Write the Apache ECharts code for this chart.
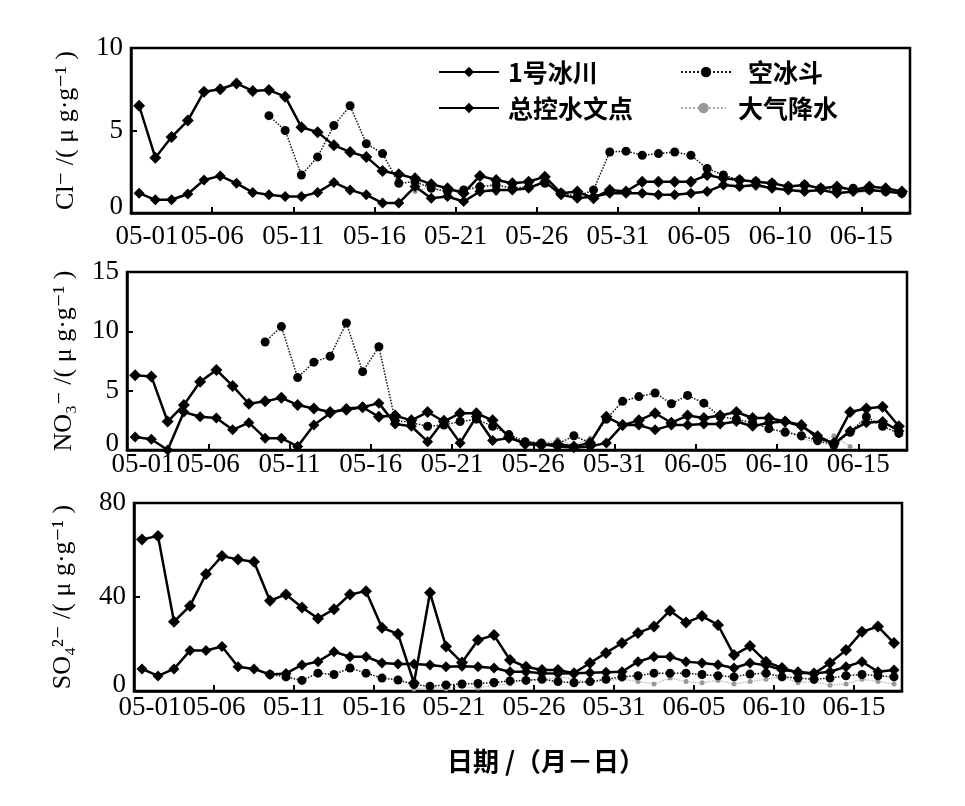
<!DOCTYPE html>
<html><head><meta charset="utf-8">
<script src="https://cdn.jsdelivr.net/npm/echarts@6/dist/echarts.min.js"></script>
<style>html,body{margin:0;padding:0;background:#fff}#c{width:965px;height:806px}</style>
</head><body><div id="c"></div>
<script>
// ---- data ----
const dates = ['05-01','05-02','05-03','05-04','05-05','05-06','05-07','05-08','05-09','05-10',
  '05-11','05-12','05-13','05-14','05-15','05-16','05-17','05-18','05-19','05-20',
  '05-21','05-22','05-23','05-24','05-25','05-26','05-27','05-28','05-29','05-30',
  '05-31','06-01','06-02','06-03','06-04','06-05','06-06','06-07','06-08','06-09',
  '06-10','06-11','06-12','06-13','06-14','06-15','06-16','06-17'];
const seriesNames = ['1号冰川', '总控水文点', '空冰斗', '大气降水'];

const clGlacier = [6.5,3.35,4.6,5.6,7.35,7.5,7.85,7.4,7.45,7.05,
  5.2,4.9,4.1,3.7,3.4,2.55,2.35,2.1,1.75,1.5,
  1.2,2.25,2.0,1.8,1.9,2.2,1.2,1.3,0.9,1.4,
  1.3,1.9,1.9,1.9,1.9,2.3,2.1,2.0,1.9,1.8,
  1.6,1.7,1.5,1.6,1.4,1.6,1.5,1.3];
const clOutlet = [1.2,0.8,0.8,1.15,2.0,2.25,1.8,1.25,1.1,1.0,
  1.0,1.25,1.85,1.4,1.1,0.6,0.6,1.6,0.9,1.0,
  0.7,1.3,1.4,1.4,1.5,1.9,1.1,0.9,1.0,1.2,
  1.2,1.2,1.1,1.1,1.2,1.3,1.7,1.6,1.7,1.5,
  1.4,1.3,1.4,1.2,1.3,1.4,1.3,1.2];
const clCirque = [null,null,null,null,null,null,null,null,5.9,5.0,
  2.3,3.4,5.3,6.5,4.2,3.6,1.8,1.9,1.5,1.3,
  1.4,1.6,1.7,1.5,1.6,1.8,1.2,1.0,1.4,3.7,
  3.75,3.5,3.6,3.7,3.5,2.7,2.3,2.0,1.9,1.8,
  1.6,1.7,1.5,1.4,1.5,1.4,1.3,1.2];
const clPrecip = [null,null,null,null,null,null,null,null,null,null,
  null,null,null,null,null,null,null,1.3,1.6,1.2,
  1.5,1.4,1.2,null,null,null,null,null,null,null,
  null,null,null,null,null,null,1.8,1.7,1.5,1.6,
  1.4,1.5,1.3,1.4,1.2,1.3,1.4,1.1];

const no3Glacier = [6.3,6.2,2.4,3.8,5.75,6.75,5.4,3.9,4.1,4.4,
  3.8,3.5,3.2,3.4,3.6,2.8,2.9,2.5,3.2,2.4,
  3.1,3.1,2.5,1.1,0.5,0.4,0.5,0.3,0.6,2.8,
  2.1,2.5,3.1,2.3,2.9,2.7,2.9,3.2,2.7,2.7,
  2.4,2.1,1.0,0.6,3.2,3.5,3.65,2.0];
const no3Outlet = [1.1,0.9,0.0,3.2,2.8,2.7,1.7,2.3,1.0,1.0,
  0.3,2.1,3.1,3.5,3.6,3.95,2.2,2.0,0.7,2.5,
  0.6,2.8,0.8,1.0,0.6,0.5,0.3,0.2,0.3,0.6,
  2.1,2.1,1.7,2.1,2.1,2.2,2.2,2.4,2.0,2.3,
  2.4,2.0,1.2,0.5,1.6,2.3,2.4,1.6];
const no3Cirque = [null,null,null,null,null,null,null,null,9.1,10.4,
  6.1,7.4,7.9,10.7,6.6,8.7,2.5,2.3,2.0,2.1,
  2.4,2.6,2.0,1.3,0.7,0.6,0.5,1.2,0.6,2.6,
  4.1,4.5,4.8,3.9,4.6,3.95,2.8,2.6,2.3,1.8,
  1.5,1.2,0.8,0.4,1.5,2.8,2.0,1.4];
const no3Precip = [null,null,null,null,null,null,null,null,null,null,
  null,null,null,null,null,null,null,null,null,null,
  null,null,null,null,0.8,0.5,0.9,0.4,1.0,null,
  null,null,null,null,null,null,null,null,null,null,
  1.8,1.0,0.6,1.2,0.3,null,null,null];

const so4Glacier = [64.5,66,29.5,36.2,49.8,57.4,56,55,38.4,41.1,
  35.5,30.9,34.8,41.1,42.5,26.9,24.3,3.4,41.8,18.9,
  12.1,21.7,23.8,13.2,10.3,8.9,8.9,7.6,11.9,16.2,
  20.4,24.7,27.4,34.2,29.1,31.9,28.1,15.3,19.1,12.5,
  9.8,7.8,7.4,11.9,17.4,25.2,27.4,20.4];
const so4Outlet = [9.4,6.4,9.4,17.2,17.2,18.9,10.3,9.4,7.0,7.5,
  11.1,12.5,16.7,14.6,14.6,11.9,11.5,11.5,11.1,10.3,
  10.5,10.3,9.8,8.2,8.2,7.6,7.4,7.6,7.8,8.0,
  8.2,12.5,14.6,14.6,12.5,11.9,11.2,9.8,11.9,11.0,
  8.9,8.2,7.4,8.2,10.3,12.5,8.2,8.9];
const so4Cirque = [null,null,null,null,null,null,null,null,7.0,6.0,
  4.5,7.6,7.0,9.8,7.6,5.5,4.7,2.8,2.0,2.6,
  3.0,3.2,3.6,4.3,4.5,5.0,4.0,3.5,4.0,5.0,
  6.0,6.5,7.6,7.6,7.6,7.0,6.5,6.0,7.2,7.6,
  6.0,5.5,5.0,5.5,6.5,7.0,6.5,6.0];
const so4Precip = [null,null,null,null,null,null,null,null,null,null,
  null,null,null,null,null,null,null,0.8,1.5,1.0,
  2.0,1.2,2.5,3.0,5.0,4.5,6.0,5.0,3.5,4.5,
  5.0,4.0,3.0,5.5,4.0,3.5,4.5,3.0,4.0,5.0,
  6.0,3.5,4.0,2.5,3.0,5.0,4.0,3.0];

const yTicks = [[0,10,5],[0,15,5],[0,80,40]]; // [min,max,interval]
const yNames = ['Cl⁻ /( μ g·g⁻¹ )', 'NO₃⁻ /( μ g·g⁻¹ )', 'SO₄²⁻ /( μ g·g⁻¹ )'];

// ---- layout ----
const grids = [
  {left:131, right:55, top:48, height:165},
  {left:127, right:58, top:272, height:178},
  {left:134, right:63, top:503, height:188}
];
const xMargins = [10, 1, 3];
const yNameGaps = [52, 50, 58];
const serif = '"Liberation Serif", "DejaVu Serif", serif';
const cjk = '"Noto Sans CJK SC", sans-serif';

const panels = [
  [clGlacier, clOutlet, clCirque, clPrecip],
  [no3Glacier, no3Outlet, no3Cirque, no3Precip],
  [so4Glacier, so4Outlet, so4Cirque, so4Precip]
];

const styles = [
  {symbol:'diamond', symbolSize:12, lineStyle:{color:'#000', width:2.5, type:'solid'}, itemStyle:{color:'#000'}, z:4},
  {symbol:'diamond', symbolSize:11, lineStyle:{color:'#000', width:2.5, type:'solid'}, itemStyle:{color:'#000'}, z:3},
  {symbol:'circle', symbolSize:9, lineStyle:{color:'#111', width:1.5, type:'dotted'}, itemStyle:{color:'#000'}, z:2},
  {symbol:'circle', symbolSize:5, lineStyle:{color:'#aaa', width:1.2, type:'dotted'}, itemStyle:{color:'#999'}, z:1}
];

const series = [];
panels.forEach((vals, g) => {
  vals.forEach((arr, s) => {
    series.push(Object.assign({
      type:'line', name: seriesNames[s], xAxisIndex:g, yAxisIndex:g,
      data: arr.map((v, i) => [i + 0.5, v]),
      connectNulls:false, showSymbol:true, animation:false, silent:true
    }, styles[s]));
  });
});

const xAxis = grids.map((gr, g) => ({
  type:'value', gridIndex:g, min:0, max:48, interval:5,
  axisLine:{show:true, lineStyle:{color:'#000', width:2.5}},
  axisTick:{show:true, inside:true, length:6, lineStyle:{color:'#000', width:2}},
  splitLine:{show:false},
  axisLabel:{
    showMaxLabel:false, showMinLabel:true, hideOverlap:false, margin:xMargins[g], color:'#000', fontFamily:serif, fontSize:27,
    formatter:(v) => v === 0 ? '{f|' + dates[0] + '}' : (dates[v] || ''),
    rich:{f:{padding:[0,0,0,32], fontFamily:serif, fontSize:27, color:'#000'}}
  }
}));

const yAxis = grids.map((gr, g) => ({
  type:'value', gridIndex:g, min:yTicks[g][0], max:yTicks[g][1], interval:yTicks[g][2],
  axisLine:{show:true, lineStyle:{color:'#000', width:2.5}},
  axisTick:{show:true, inside:true, length:6, lineStyle:{color:'#000', width:2}},
  splitLine:{show:false},
  axisLabel:{
    margin:8, hideOverlap:false, color:'#000', fontFamily:serif, fontSize:27,
    formatter:(v) => v === 0 ? '{z|0}' : String(v),
    rich:{z:{padding:[0,0,12,0], fontFamily:serif, fontSize:27, color:'#000'}}
  },
  name: yNames[g], nameLocation:'middle', nameRotate:90, nameGap:yNameGaps[g],
  nameTextStyle:{fontFamily:serif, fontSize:26, color:'#000'}
}));

const legendText = {fontFamily:cjk, fontSize:25, fontWeight:'bold', color:'#000', lineHeight:30};
const legendBase = {orient:'horizontal', padding:0, itemHeight:13, selectedMode:false};
const legend = [
  Object.assign({}, legendBase, {data:[seriesNames[0]], left:438, top:57, itemWidth:60, textStyle:Object.assign({padding:[0,0,0,4]}, legendText)}),
  Object.assign({}, legendBase, {data:[seriesNames[2]], left:680, top:57, itemWidth:50, textStyle:Object.assign({padding:[0,0,0,12]}, legendText)}),
  Object.assign({}, legendBase, {data:[seriesNames[1]], left:438, top:93, itemWidth:60, textStyle:Object.assign({padding:[0,0,0,4]}, legendText)}),
  Object.assign({}, legendBase, {data:[seriesNames[3]], left:680, top:93, itemWidth:45, textStyle:Object.assign({padding:[0,0,0,7]}, legendText)})
];

const chart = echarts.init(document.getElementById('c'), null, {renderer:'canvas'});
chart.setOption({
  backgroundColor:'#fff',
  animation:false,
  grid: grids.map(gr => Object.assign({show:true, borderColor:'#000', borderWidth:2.5, backgroundColor:'transparent', containLabel:false}, gr)),
  xAxis, yAxis, legend, series,
  graphic:[{type:'text', left:447, top:748, style:{text:'日期 /（月－日）', font:'bold 26px "Noto Sans CJK SC"', fill:'#000'}}]
});
</script></body></html>
